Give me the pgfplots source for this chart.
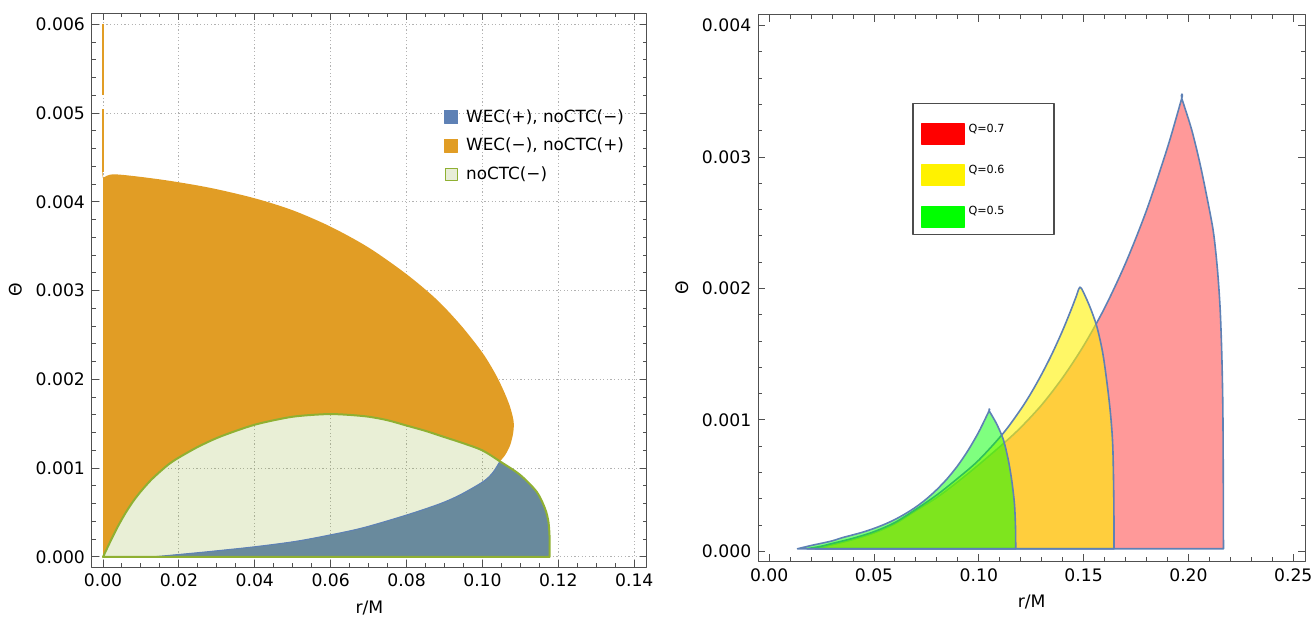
\documentclass[border=0pt]{standalone}
\usepackage{fontspec}
\setmainfont{DejaVu Sans}
\usepackage{pgfplots}
\pgfplotsset{compat=1.18}

\definecolor{wecorange}{RGB}{225,157,37}
\definecolor{wecblue}{RGB}{94,129,181}
\definecolor{blueregion}{RGB}{105,138,157}
\definecolor{ctcgreen}{RGB}{143,176,50}
\definecolor{ctcfill}{RGB}{232,237,216}
\definecolor{edgeblue}{RGB}{94,129,181}
\definecolor{framegray}{RGB}{80,80,80}

\pgfplotsset{
  mframe/.style={
    scale only axis,
    axis line style={framegray, line width=0.5pt},
    tick style={framegray, line width=0.5pt},
    major tick length=3.5pt, minor tick length=2pt,
    tick align=inside,
    scaled ticks=false,
    tick label style={font=\fontsize{8.6}{10}\selectfont},
    label style={font=\fontsize{8.6}{10}\selectfont},
    xticklabel style={/pgf/number format/.cd, assume math mode=true, fixed, fixed zerofill, precision=2, /tikz/.cd},
    yticklabel style={/pgf/number format/.cd, assume math mode=true, fixed, fixed zerofill, precision=3, /tikz/.cd},
  },
}

% boundary of the noCTC(-) region, left panel
\pgfplotstableread{
x y
0 0
0.002 0.00018
0.004 0.00035
0.006 0.00050
0.008 0.00063
0.010 0.00074
0.0125 0.00086
0.015 0.00096
0.0175 0.00105
0.020 0.00112
0.025 0.00124
0.030 0.00134
0.035 0.00142
0.040 0.00149
0.045 0.00154
0.050 0.00158
0.055 0.00160
0.060 0.00161
0.065 0.00160
0.070 0.00158
0.075 0.00154
0.080 0.00148
0.085 0.00142
0.090 0.00135
0.095 0.00128
0.100 0.00120
0.1046 0.001077
0.1099 0.000925
0.1143 0.000733
0.1165 0.000543
0.1174 0.00039
0.1177 0.0002
0.1177 0
}\ctcline

\begin{document}
\begin{tikzpicture}[line join=round]
\path[use as bounding box] (-46pt,-25pt) rectangle (610pt,283.5pt);

% ---------------- left panel
\begin{axis}[mframe,
  at={(0pt,0pt)}, anchor=south west,
  width=277.4pt, height=276.85pt,
  xmin=-0.0029, xmax=0.1433, ymin=-0.000113, ymax=0.006124,
  xtick={0,0.02,0.04,0.06,0.08,0.1,0.12,0.14},
  ytick={0,0.001,0.002,0.003,0.004,0.005,0.006},
  minor x tick num=3, minor y tick num=4,
  grid=major,
  grid style={gray!60, line width=0.5pt, dash pattern=on 0.6pt off 1.2pt},
  xlabel={r/M}, ylabel={Θ},
  legend style={at={(0.6345,0.8345)}, anchor=north west, draw=none, fill=none,
    inner sep=0pt, row sep=2.5pt, font=\fontsize{8.4}{10}\selectfont,
    cells={anchor=west},
    /tikz/every odd column/.append style={column sep=2pt}},
]
% WEC(-), noCTC(+)
\addplot[smooth, fill=wecorange, draw=none, forget plot] coordinates {
  (0,0) (0,0.00427) (0,0.00427) (0.0032,0.00431) (0.0155,0.00425) (0.028,0.00416)
  (0.040,0.00404) (0.050,0.003905) (0.060,0.00372) (0.070,0.003485)
  (0.080,0.003185) (0.088,0.002897) (0.0945,0.00260) (0.100,0.00230)
  (0.1033,0.00207) (0.1055,0.00188) (0.1072,0.00170)
  (0.1082,0.00153) (0.1081,0.00140) (0.1073,0.00126) (0.1060,0.00115)
  (0.1046,0.001077) (0.1046,0.001077)
  (0.100,0.00120) (0.095,0.00128) (0.090,0.00135) (0.085,0.00142) (0.080,0.00148)
  (0.075,0.00154) (0.070,0.00158) (0.065,0.00160) (0.060,0.00161) (0.055,0.00160)
  (0.050,0.00158) (0.045,0.00154) (0.040,0.00149) (0.035,0.00142) (0.030,0.00134)
  (0.025,0.00124) (0.020,0.00112) (0.0175,0.00105) (0.015,0.00096) (0.0125,0.00086)
  (0.010,0.00074) (0.008,0.00063) (0.006,0.00050) (0.004,0.00035) (0.002,0.00018) (0,0) } -- cycle;
\addplot[wecorange, line width=1.3pt, forget plot] coordinates {(0,0.004341) (0,0.005048)};
\addplot[wecorange, line width=1.3pt, forget plot] coordinates {(0,0.005205) (0,0.006006)};
% noCTC(-)
\addplot[smooth, fill=ctcgreen, fill opacity=0.2, draw=none, forget plot] table {\ctcline} -- cycle;
% WEC(+), noCTC(-)
\addplot[smooth, fill=blueregion, draw=none, forget plot] coordinates {
  (0.0128,0) (0.0229,0.00004) (0.0300,0.00007) (0.0401,0.000116)
  (0.0506,0.000175) (0.0598,0.000248) (0.0686,0.000330)
  (0.0800,0.000473) (0.0888,0.0006) (0.0941,0.000700) (0.1002,0.000850) (0.1027,0.00095)
  (0.1046,0.001077) (0.1046,0.001077) (0.1099,0.000925) (0.1143,0.000733) (0.1165,0.000543)
  (0.1174,0.00039) (0.1177,0.0002) (0.1177,0) } -- cycle;
\addplot[smooth, edgeblue, line width=0.5pt, forget plot] coordinates {
  (0.0128,0) (0.0229,0.00004) (0.0300,0.00007) (0.0401,0.000116)
  (0.0506,0.000175) (0.0598,0.000248) (0.0686,0.000330)
  (0.0800,0.000473) (0.0888,0.0006) (0.0941,0.000700) (0.1002,0.000850) (0.1027,0.00095)
  (0.1046,0.001077) };
\addplot[smooth, ctcgreen, line width=1pt, line join=round, forget plot] table {\ctcline} -- cycle;
\addlegendimage{legend image code/.code={\fill[wecblue] (0pt,-3.25pt) rectangle (6.5pt,3.25pt);}}
\addlegendentry{WEC(+), noCTC(−)}
\addlegendimage{legend image code/.code={\fill[wecorange] (0pt,-3.25pt) rectangle (6.5pt,3.25pt);}}
\addlegendentry{WEC(−), noCTC(+)}
\addlegendimage{legend image code/.code={\draw[fill=ctcfill, draw=ctcgreen, line width=0.6pt] (0.3pt,-2.95pt) rectangle (6.2pt,2.95pt);}}
\addlegendentry{noCTC(−)}
\end{axis}

% ---------------- right panel
\begin{axis}[mframe,
  at={(333.15pt,2.85pt)}, anchor=south west,
  width=273.35pt, height=273.35pt,
  xmin=-0.0052, xmax=0.2556, ymin=-0.0000753, ymax=0.004084,
  xtick={0,0.05,0.1,0.15,0.2,0.25},
  ytick={0,0.001,0.002,0.003,0.004},
  minor x tick num=4, minor y tick num=4,
  xlabel={r/M}, ylabel={Θ},
  legend style={at={(0.2817,0.8389)}, anchor=north west, draw=black!70,
    line width=0.6pt, fill=white,
    inner xsep=4.2pt, inner ysep=3.35pt, row sep=3.15pt,
    font=\fontsize{5.6}{6.5}\selectfont,
    cells={anchor=west},
    /tikz/every even column/.append style={text width=36.5pt, inner xsep=3.15pt}},
]
% Q=0.7
\addplot[smooth, fill=red, fill opacity=0.4, draw=edgeblue, line width=0.8pt, line join=round, forget plot] coordinates {
  (0.022,0.00002) (0.03,0.00005) (0.04,0.00009) (0.05,0.00014) (0.06,0.00021)
  (0.07,0.00031) (0.08,0.00041) (0.09,0.00053) (0.10,0.00066) (0.1117,0.00082)
  (0.120,0.000943) (0.130,0.001115) (0.140,0.001322) (0.150,0.001565)
  (0.160,0.001852) (0.170,0.002193) (0.180,0.002595) (0.190,0.003073)
  (0.1968,0.003447) (0.1968,0.003447) (0.2015,0.00321) (0.2055,0.00295)
  (0.2090,0.00268) (0.2119,0.00243) (0.2138,0.00215) (0.2151,0.00185)
  (0.2159,0.00150) (0.2164,0.00110) (0.2166,0.0006) (0.2167,0.00002) } -- cycle;
% Q=0.6
\addplot[smooth, fill=yellow, fill opacity=0.6, draw=edgeblue, line width=0.8pt, line join=round, forget plot] coordinates {
  (0.018,0.00002) (0.025,0.00004) (0.03,0.00006) (0.04,0.0001) (0.05,0.00015)
  (0.06,0.00022) (0.07,0.00032) (0.08,0.00043) (0.09,0.000557) (0.10,0.000695)
  (0.1117,0.00090) (0.120,0.001081) (0.125,0.001207) (0.130,0.001349)
  (0.135,0.001506) (0.140,0.001682) (0.144,0.001838) (0.1465,0.001942)
  (0.1478,0.002) (0.1490,0.002)
  (0.1530,0.00186) (0.1563,0.00171) (0.1590,0.00152) (0.1610,0.00130)
  (0.1628,0.00105) (0.1639,0.00080) (0.1644,0.00039) (0.1645,0.00002) } -- cycle;
% Q=0.5
\addplot[smooth, fill=green, fill opacity=0.5, draw=edgeblue, line width=0.8pt, line join=round, forget plot] coordinates {
  (0.0135,0.00002) (0.020,0.000045) (0.025,0.000062) (0.030,0.00008)
  (0.035,0.000105) (0.040,0.000126) (0.045,0.000148) (0.050,0.000175)
  (0.055,0.000206) (0.060,0.000243) (0.065,0.000287) (0.070,0.000338)
  (0.075,0.000399) (0.080,0.000471) (0.085,0.000555) (0.090,0.000654)
  (0.095,0.000772) (0.100,0.00091) (0.1049,0.00107) (0.1049,0.00107) (0.1085,0.00097)
  (0.1117,0.00085) (0.1140,0.00070) (0.1157,0.00054) (0.1170,0.00036)
  (0.1175,0.00018) (0.1176,0.00002) } -- cycle;
\addlegendimage{legend image code/.code={\fill[red] (0pt,-7.5pt) rectangle (21pt,3pt); \path (0pt,9.45pt) -- (0pt,9.45pt);}}
\addlegendentry{Q=0.7}
\addlegendimage{legend image code/.code={\fill[yellow] (0pt,-7.5pt) rectangle (21pt,3pt); \path (0pt,9.45pt) -- (0pt,9.45pt);}}
\addlegendentry{Q=0.6}
\addlegendimage{legend image code/.code={\fill[green] (0pt,-7.5pt) rectangle (21pt,3pt); \path (0pt,9.45pt) -- (0pt,9.45pt);}}
\addlegendentry{Q=0.5}
\end{axis}
\end{tikzpicture}
\end{document}
